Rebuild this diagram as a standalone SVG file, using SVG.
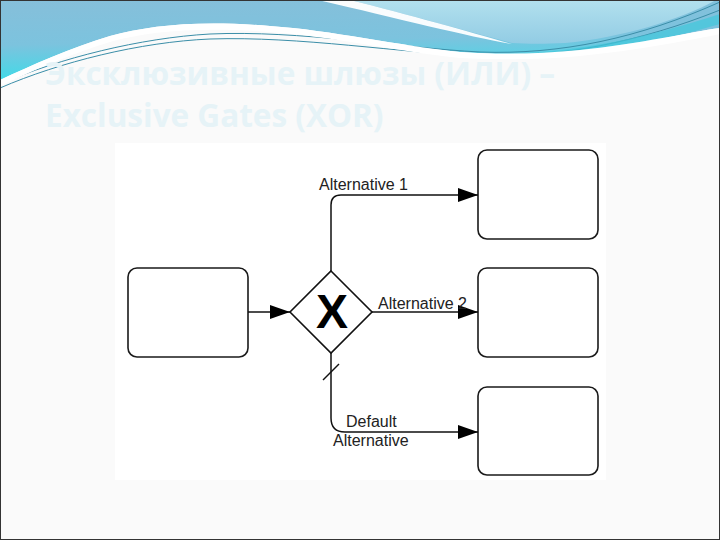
<svg xmlns="http://www.w3.org/2000/svg" width="720" height="540" viewBox="0 0 720 540">
  <defs>
    <linearGradient id="waveGrad" x1="0" y1="0" x2="0.15" y2="1">
      <stop offset="0" stop-color="#86bfda"/>
      <stop offset="0.55" stop-color="#7cc3de"/>
      <stop offset="1" stop-color="#3fdbe8"/>
    </linearGradient>
    <linearGradient id="lightGrad" x1="0" y1="0" x2="0" y2="1">
      <stop offset="0" stop-color="#b2e0ee"/>
      <stop offset="1" stop-color="#92cce4"/>
    </linearGradient>
    <marker id="arrow" markerUnits="userSpaceOnUse" markerWidth="20" markerHeight="14" refX="20" refY="7" orient="auto">
      <path d="M0,0 L20,7 L0,14 Z" fill="#000"/>
    </marker>
    <style>
      .title { font-family: "Open Sans", "Liberation Sans", sans-serif; font-weight: bold; font-size: 31.5px; fill: #e6f3f7; }
      .box { fill: #fff; stroke: #1a1a1a; stroke-width: 1.6; }
      .flow { fill: none; stroke: #111; stroke-width: 1.5; }
      .lbl { font-family: "Liberation Sans", Arial, sans-serif; font-size: 16px; fill: #222; }
      .xmark { font-family: "Liberation Sans", Arial, sans-serif; font-weight: bold; font-size: 48px; fill: #000; }
      .wline { fill: none; stroke: #3b8ea8; stroke-width: 1; }
    </style>
  </defs>

  <!-- slide background -->
  <rect x="0" y="0" width="720" height="540" fill="#fafafa"/>

  <!-- decorative top wave -->
  <g id="wave">
    <path d="M0,0 H720 V28 C690,32 640,44 580,50 C540,54 500,55 460,52 C400,46 330,30 270,26 C200,20 150,25 110,36 C70,48 30,66 0,80 Z" fill="url(#waveGrad)"/>
    <path d="M350,0 H716 C680,20 620,38 565,43 C545,44 528,44 512,43 C470,32 410,15 350,0 Z" fill="url(#lightGrad)"/>
    <path d="M318,0 L350,0 C410,15 470,32 512,44 C470,37 400,19 318,0 Z" fill="#ffffff" opacity="0.95"/>
    <path d="M0,84 C60,58 140,38 210,34 C300,30 400,48 480,52 C560,55 640,38 720,2" class="wline"/>
    <path d="M0,88 C60,62 140,42 210,39 C300,36 400,53 480,56 C560,58 640,42 720,10" class="wline" stroke="#5fb4c8"/>
    <path d="M480,54 C560,56 640,40 720,14 L720,24 C640,48 560,58 480,56 Z" fill="#42c8dc" opacity="0.7"/>
    <path d="M0,80 C30,66 70,48 110,36 C150,25 200,20 270,26 C330,30 400,46 460,52 C500,55 540,54 580,50 C640,44 690,32 720,28 V34 C690,40 640,50 580,56 C540,60 500,60 460,58 C400,52 330,36 270,32 C200,27 150,31 110,42 C70,54 30,72 0,86 Z" fill="#ffffff"/>
  </g>

  <!-- title -->
  <g id="title">
    <text class="title" x="45" y="85">Эксклюзивные шлюзы (ИЛИ) –</text>
    <text class="title" x="45" y="127">Exclusive Gates (XOR)</text>
  </g>

  <!-- diagram background -->
  <rect x="115" y="143" width="491" height="337" fill="#ffffff"/>

  <g id="task-start"><rect class="box" x="128" y="268" width="120" height="89" rx="9"/></g>
  <g id="task-alt1"><rect class="box" x="478" y="150" width="120" height="89" rx="9"/></g>
  <g id="task-alt2"><rect class="box" x="478" y="268" width="120" height="89" rx="9"/></g>
  <g id="task-default"><rect class="box" x="478" y="387" width="120" height="88" rx="9"/></g>

  <g id="gateway">
    <path d="M331,271 L372,312 L331,353 L290,312 Z" fill="#fff" stroke="#111" stroke-width="1.6"/>
    <text class="xmark" x="332" y="328" text-anchor="middle">X</text>
  </g>

  <g id="connectors">
    <path class="flow" d="M248,312 H290" marker-end="url(#arrow)"/>
    <path class="flow" d="M331,271 V205 Q331,195 341,195 H478" marker-end="url(#arrow)"/>
    <path class="flow" d="M372,312 H478" marker-end="url(#arrow)"/>
    <path class="flow" d="M331,353 V418 Q331,432 345,432 H478" marker-end="url(#arrow)"/>
    <path class="flow" d="M323,380 L339,364"/>
  </g>

  <g id="labels">
    <text class="lbl" x="319" y="190">Alternative 1</text>
    <text class="lbl" x="378" y="309">Alternative 2</text>
    <text class="lbl" x="346" y="427">Default</text>
    <text class="lbl" x="333" y="446">Alternative</text>
  </g>

  <!-- slide border -->
  <rect x="0.5" y="0.5" width="719" height="539" fill="none" stroke="#333" stroke-width="1"/>
</svg>
